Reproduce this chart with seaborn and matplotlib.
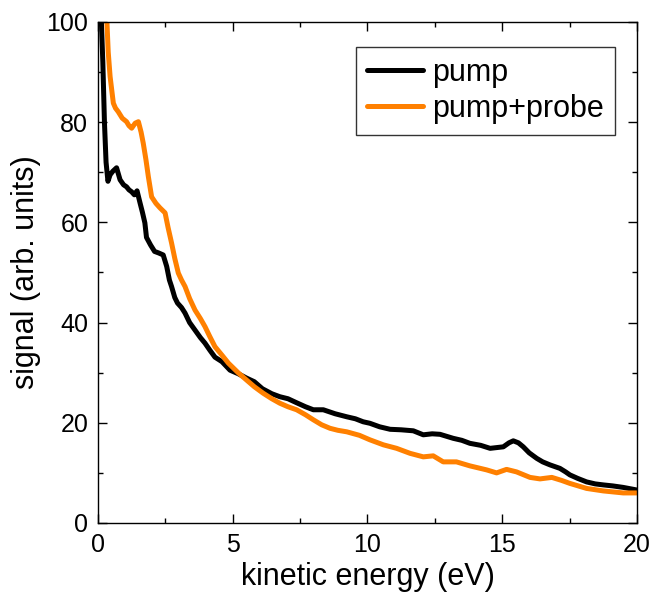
import numpy as np
import pandas as pd
import matplotlib
matplotlib.use("Agg")
import matplotlib.pyplot as plt
from matplotlib.ticker import MultipleLocator
import seaborn as sns

# --- data ---
pump_energy = [0.10, 0.18, 0.24, 0.30, 0.37, 0.45, 0.55, 0.69, 0.82, 0.95,
               1.06, 1.15, 1.25, 1.35, 1.45, 1.56, 1.65, 1.74, 1.80, 1.95,
               2.10, 2.25, 2.42, 2.55, 2.65, 2.73, 2.85, 2.95, 3.10, 3.23,
               3.40, 3.60, 3.80, 3.97, 4.15, 4.34, 4.60, 4.90, 5.20, 5.52,
               5.80, 6.10, 6.45, 6.75, 7.05, 7.37, 7.70, 7.99, 8.36, 8.80,
               9.23, 9.55, 9.84, 10.09, 10.45, 10.84, 11.25, 11.70, 12.07, 12.40,
               12.69, 13.18, 13.50, 13.80, 14.20, 14.55, 15.04, 15.25, 15.41, 15.60,
               15.78, 16.00, 16.28, 16.50, 16.77, 17.14, 17.35, 17.51, 17.80, 18.13,
               18.45, 18.75, 19.10, 19.49, 19.98]
pump_signal = [104.0, 92.0, 80.0, 72.0, 68.2, 69.5, 70.2, 70.9, 68.5, 67.5,
               67.1, 66.5, 66.1, 65.5, 66.3, 63.9, 62.0, 59.9, 57.0, 55.5,
               54.2, 53.9, 53.5, 51.2, 48.5, 47.2, 45.0, 43.9, 43.0, 41.9,
               40.0, 38.5, 37.0, 35.9, 34.5, 33.1, 32.2, 30.5, 29.8, 28.9,
               28.2, 26.8, 25.8, 25.2, 24.8, 24.0, 23.2, 22.6, 22.6, 21.8,
               21.2, 20.8, 20.2, 19.9, 19.2, 18.7, 18.6, 18.4, 17.6, 17.8,
               17.7, 16.9, 16.5, 15.9, 15.5, 14.9, 15.2, 16.0, 16.4, 16.0,
               15.2, 14.0, 12.9, 12.2, 11.6, 10.9, 10.2, 9.6, 8.9, 8.2,
               7.8, 7.6, 7.4, 7.1, 6.6]

probe_energy = [0.30, 0.38, 0.45, 0.57, 0.65, 0.75, 0.90, 1.06, 1.15, 1.25,
                1.38, 1.50, 1.60, 1.68, 1.78, 1.87, 1.99, 2.15, 2.30, 2.49,
                2.60, 2.73, 2.85, 2.98, 3.10, 3.23, 3.40, 3.60, 3.80, 3.97,
                4.15, 4.34, 4.60, 4.84, 5.20, 5.52, 5.80, 6.13, 6.45, 6.75,
                7.05, 7.37, 7.70, 7.99, 8.30, 8.61, 8.90, 9.23, 9.70, 10.09,
                10.59, 11.08, 11.58, 12.07, 12.44, 12.81, 13.30, 13.80, 14.42, 14.79,
                15.16, 15.53, 16.03, 16.40, 16.84, 17.20, 17.51, 18.13, 18.75, 19.49,
                19.98]
probe_signal = [104.0, 94.0, 89.1, 83.8, 82.8, 82.1, 80.8, 80.1, 79.3, 78.8,
                79.8, 80.1, 78.0, 75.8, 72.5, 69.1, 65.1, 63.8, 62.9, 61.9,
                59.0, 55.9, 52.8, 49.9, 48.5, 47.2, 44.8, 42.5, 40.8, 39.2,
                37.2, 35.2, 33.5, 31.9, 30.0, 28.5, 27.2, 25.9, 24.8, 23.9,
                23.2, 22.6, 21.6, 20.6, 19.6, 18.9, 18.5, 18.2, 17.5, 16.6,
                15.6, 14.9, 13.9, 13.2, 13.4, 12.2, 12.2, 11.4, 10.6, 10.0,
                10.7, 10.2, 9.1, 8.8, 9.1, 8.5, 7.9, 6.9, 6.4, 6.0,
                6.0]

series_names = ["pump", "pump+probe"]
series_colors = ["#000000", "#ff8000"]

df = pd.concat([
    pd.DataFrame({"energy": pump_energy, "signal": pump_signal, "series": series_names[0]}),
    pd.DataFrame({"energy": probe_energy, "signal": probe_signal, "series": series_names[1]}),
], ignore_index=True)

sns.set_style("ticks")
plt.rcParams['font.family'] = ['Liberation Sans', 'DejaVu Sans']
# plain black text like the original
plt.rcParams['text.color'] = 'black'
plt.rcParams['axes.labelcolor'] = 'black'
plt.rcParams['xtick.color'] = 'black'
plt.rcParams['ytick.color'] = 'black'

fig = plt.figure(figsize=(6.51, 5.99), dpi=100)
ax = fig.add_axes([0.1505, 0.1269, 0.828, 0.8364])

sns.lineplot(data=df, x="energy", y="signal", hue="series",
             palette=dict(zip(series_names, series_colors)),
             estimator=None, sort=False, linewidth=3.6, ax=ax)

ax.set_xlim(0, 20)
ax.set_ylim(0, 100)
ax.xaxis.set_major_locator(MultipleLocator(5))
ax.xaxis.set_minor_locator(MultipleLocator(2.5))
ax.yaxis.set_major_locator(MultipleLocator(20))
ax.yaxis.set_minor_locator(MultipleLocator(10))
ax.tick_params(which="both", direction="in", top=True, right=True,
               width=1.0, labelsize=18, pad=7, color="black", labelcolor="black")
ax.tick_params(which="major", length=6.5)
ax.tick_params(which="minor", length=3.5)
for s in ax.spines.values():
    s.set_linewidth(1.0)
    s.set_color("black")

ax.set_xlabel("kinetic energy (eV)", fontsize=22, labelpad=4, color="black")
ax.set_ylabel("signal (arb. units)", fontsize=22, labelpad=4, color="black")

leg = ax.legend(loc="upper right", bbox_to_anchor=(0.959, 0.950), borderaxespad=0,
                fontsize=22, frameon=True, fancybox=False, edgecolor="black",
                handlelength=1.85, handletextpad=0.3, labelspacing=0.2,
                borderpad=0.35, title=None)
leg.get_frame().set_linewidth(1.0)
for line in leg.get_lines():
    line.set_linewidth(3.6)
for t in leg.get_texts():
    t.set_color("black")

fig.savefig("out.png", dpi=100)
